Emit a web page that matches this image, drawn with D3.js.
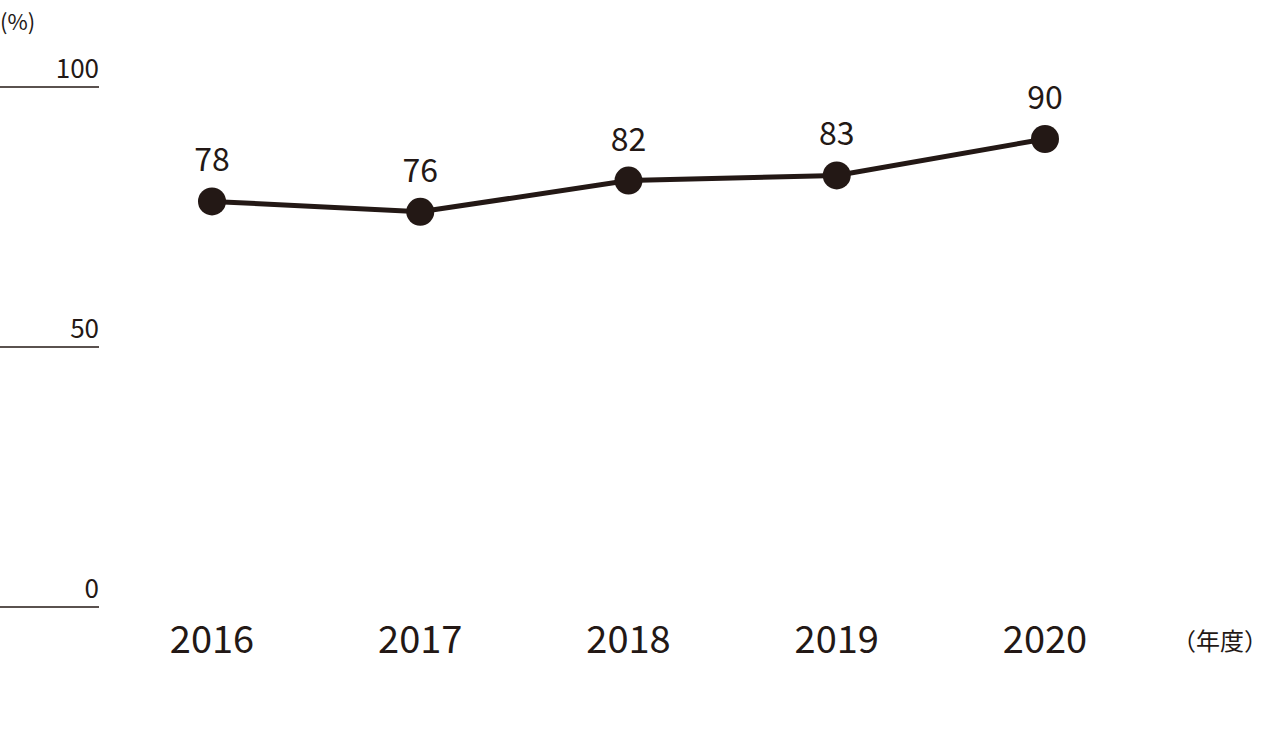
<!DOCTYPE html>
<html><head><meta charset="utf-8">
<script src="https://cdn.jsdelivr.net/npm/d3@7"></script>
<style>body{margin:0;background:#fff}</style></head>
<body><svg id="c" width="1288" height="736"></svg>
<script>
const years = ["2016","2017","2018","2019","2020"];
const values = [78,76,82,83,90];
const yTicks = [0,50,100];
const col = "#231815";
const font = "'Noto Sans CJK JP','Noto Sans',sans-serif";
const svg = d3.select("#c");
const x = d3.scalePoint().domain(years).range([212,1045]);
const y = d3.scaleLinear().domain([0,100]).range([607,87]);
yTicks.forEach(t=>{
  svg.append("line").attr("x1",0).attr("x2",99).attr("y1",y(t)).attr("y2",y(t)).attr("stroke",col).attr("stroke-width",1.5);
  svg.append("text").attr("x",99).attr("y",y(t)-9).attr("text-anchor","end").attr("font-size",26).attr("font-family",font).attr("fill",col).text(t);
});
svg.append("text").attr("x",0).attr("y",30).attr("font-size",22).attr("font-family",font).attr("fill",col).text("(%)");
years.forEach(yr=>{
  svg.append("text").attr("x",x(yr)).attr("y",653).attr("text-anchor","middle").attr("font-size",38).attr("font-family",font).attr("fill",col).text(yr);
});
svg.append("text").attr("x",1268).attr("y",650).attr("text-anchor","end").attr("font-size",24).attr("font-family",font).attr("fill",col).text("（年度）");
const line = d3.line().x((d,i)=>x(years[i])).y(d=>y(d));
svg.append("path").datum(values).attr("d",line).attr("fill","none").attr("stroke",col).attr("stroke-width",5);
values.forEach((v,i)=>{
  svg.append("circle").attr("cx",x(years[i])).attr("cy",y(v)).attr("r",14).attr("fill",col);
  svg.append("text").attr("x",x(years[i])).attr("y",y(v)-30).attr("text-anchor","middle").attr("font-size",32).attr("font-family",font).attr("fill",col).text(v);
});
</script></body></html>
